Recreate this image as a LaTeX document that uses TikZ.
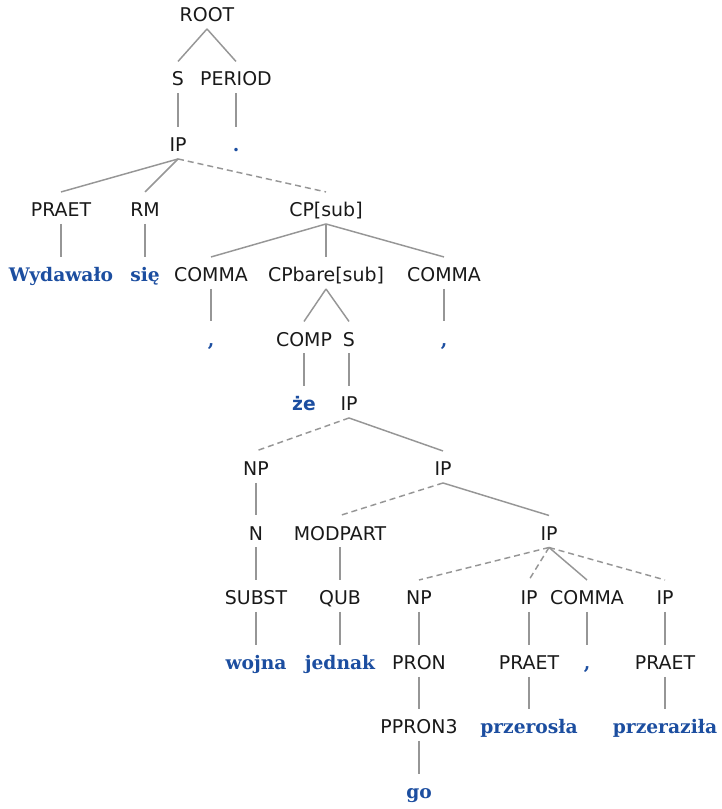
\documentclass[tikz,border=0pt]{standalone}
\usepackage{fontspec}
\setmainfont{DejaVu Sans}
\newfontfamily\wordfont{DejaVu Serif}
\newfontfamily\wordsans{DejaVu Sans}
\definecolor{wordblue}{RGB}{28,78,160}
\definecolor{edgegray}{RGB}{150,150,150}
\tikzset{
  lab/.style={anchor=base,inner sep=0pt,font=\fontsize{14.2pt}{17pt}\selectfont,text=black!90},
  wrd/.style={anchor=base,inner sep=0pt,font=\fontsize{14pt}{17pt}\wordfont\bfseries,text=wordblue},
  wrds/.style={anchor=base,inner sep=0pt,font=\fontsize{14pt}{17pt}\wordsans\bfseries,text=wordblue},
  br/.style={draw=edgegray,line width=1.1pt},
  dbr/.style={draw=edgegray,line width=1.1pt,dash pattern=on 4.5pt off 3pt},
}
\newcommand{\edg}[3][br]{\draw[#1] ([yshift=-5.6pt]#2.base) -- ([yshift=18.4pt]#3.base);}
\begin{document}
\begin{tikzpicture}[x=0.75pt,y=-0.75pt]
\useasboundingbox (0,0) rectangle (721,809);
% row baselines: y+6.5
\node[lab] (root) at (207,21.5) {ROOT};
\node[lab] (s1) at (178,86) {S};
\node[lab] (period) at (236,86) {PERIOD};
\node[lab] (ip1) at (178,151.5) {IP};
\node[wrd] (dot) at (236,151.5) {.};
\node[lab] (praet1) at (61,216.5) {PRAET};
\node[lab] (rm) at (145,216.5) {RM};
\node[lab] (cpsub) at (326,216.5) {CP[sub]};
\node[wrd] (w1) at (61,281.5) {Wydawało};
\node[wrd] (w2) at (145,281.5) {się};
\node[lab] (comma1) at (211,281.5) {COMMA};
\node[lab] (cpbare) at (326,281.5) {CPbare[sub]};
\node[lab] (comma2) at (444,281.5) {COMMA};
\node[wrd] (c1) at (211,346) {,};
\node[lab] (comp) at (304,346) {COMP};
\node[lab] (s2) at (349,346) {S};
\node[wrd] (c2) at (444,346) {,};
\node[wrds] (ze) at (304,410.5) {że};
\node[lab] (ip2) at (349,410.5) {IP};
\node[lab] (np1) at (256,475.5) {NP};
\node[lab] (ip3) at (443,475.5) {IP};
\node[lab] (n) at (256,540) {N};
\node[lab] (modpart) at (340,540) {MODPART};
\node[lab] (ip4) at (549,540) {IP};
\node[lab] (subst) at (256,604.5) {SUBST};
\node[lab] (qub) at (340,604.5) {QUB};
\node[lab] (np2) at (419,604.5) {NP};
\node[lab] (ip5) at (529,604.5) {IP};
\node[lab] (comma3) at (587,604.5) {COMMA};
\node[lab] (ip6) at (665,604.5) {IP};
\node[wrd] (wojna) at (256,669.5) {wojna};
\node[wrd] (jednak) at (340,669.5) {jednak};
\node[lab] (pron) at (419,669.5) {PRON};
\node[lab] (praet2) at (529,669.5) {PRAET};
\node[wrd] (c3) at (587,669.5) {,};
\node[lab] (praet3) at (665,669.5) {PRAET};
\node[lab] (ppron) at (419,733.5) {PPRON3};
\node[wrd] (przerosla) at (529,733.5) {przerosła};
\node[wrd] (przerazila) at (665,733.5) {przeraziła};
\node[wrd] (go) at (419,798.5) {go};
% edges
\edg{root}{s1}
\edg{root}{period}
\edg{s1}{ip1}
\edg{period}{dot}
\edg{ip1}{praet1}
\edg{ip1}{rm}
\edg[dbr]{ip1}{cpsub}
\edg{praet1}{w1}
\edg{rm}{w2}
\edg{cpsub}{comma1}
\edg{cpsub}{cpbare}
\edg{cpsub}{comma2}
\edg{comma1}{c1}
\edg{cpbare}{comp}
\edg{cpbare}{s2}
\edg{comma2}{c2}
\edg{comp}{ze}
\edg{s2}{ip2}
\edg[dbr]{ip2}{np1}
\edg{ip2}{ip3}
\edg{np1}{n}
\edg[dbr]{ip3}{modpart}
\edg{ip3}{ip4}
\edg{n}{subst}
\edg{modpart}{qub}
\edg[dbr]{ip4}{np2}
\edg[dbr]{ip4}{ip5}
\edg{ip4}{comma3}
\edg[dbr]{ip4}{ip6}
\edg{subst}{wojna}
\edg{qub}{jednak}
\edg{np2}{pron}
\edg{ip5}{praet2}
\edg{comma3}{c3}
\edg{ip6}{praet3}
\edg{pron}{ppron}
\edg{praet2}{przerosla}
\edg{praet3}{przerazila}
\edg{ppron}{go}
\end{tikzpicture}
\end{document}
